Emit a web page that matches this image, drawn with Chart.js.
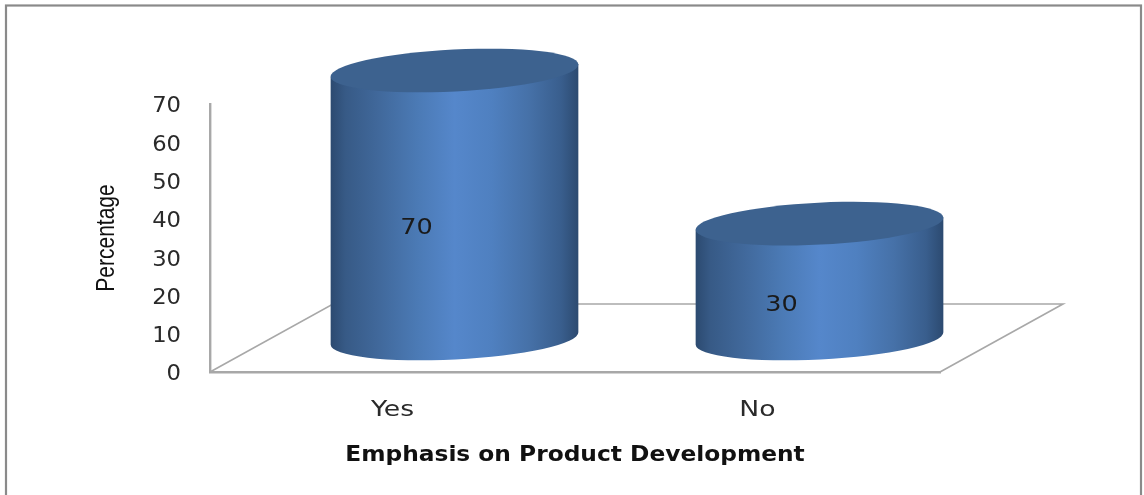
<!DOCTYPE html>
<html>
<head>
<meta charset="utf-8">
<style>
  html, body { margin: 0; padding: 0; background: #fff; }
  canvas { display: block; filter: blur(0.45px); }
</style>
<script src="https://cdn.jsdelivr.net/npm/chart.js@4"></script>
</head>
<body>
<canvas id="chart" width="1144" height="495"></canvas>
<script>
const categories = ["Yes", "No"];
const values = [70, 30];
const yTicks = [0, 10, 20, 30, 40, 50, 60, 70];
const xTitle = "Emphasis on Product Development";
const yTitle = "Percentage";

const depthX = 123, depthY = 68;   // floor depth
const barDx = 62, barDy = 33.5;    // bars stand half way back on the floor
const lineGrey = "#a8a8a8";

function cylinderFill(ctx, left, right) {
    const g = ctx.createLinearGradient(left, 0, right, 0);
    g.addColorStop(0, "#2c4a70");
    g.addColorStop(0.06, "#375a86");
    g.addColorStop(0.2, "#41699c");
    g.addColorStop(0.35, "#4b7ab5");
    g.addColorStop(0.5, "#5587cb");
    g.addColorStop(0.65, "#4f80c0");
    g.addColorStop(0.8, "#4671a8");
    g.addColorStop(0.93, "#395e8d");
    g.addColorStop(1, "#2c4a70");
    return g;
}

// the picture's text is stretched sideways, so scale the canvas round the library's own drawing
function stretchLabels(scale, sx, dy) {
    const ctx = scale.ctx;
    const draw = scale.drawLabels.bind(scale);
    const items = scale.getLabelItems.bind(scale);
    scale._computeLabelArea = () => undefined;
    scale.getLabelItems = area => items(area).map(it => {
        const t = it.options.translation;
        return { ...it, options: { ...it.options, translation: [t[0] / sx, t[1] + dy] } };
    });
    scale.drawLabels = area => {
        ctx.save();
        ctx.scale(sx, 1);
        draw(area);
        ctx.restore();
    };
}

function stretchTitle(scale, sx, sy, dy) {
    const ctx = scale.ctx;
    const draw = scale.drawTitle.bind(scale);
    const a = scale.chart.chartArea;
    const cx = (a.left + a.right) / 2, cy = (a.top + a.bottom) / 2;
    scale.drawTitle = () => {
        ctx.save();
        ctx.translate(cx, cy + dy);
        ctx.scale(sx, sy);
        ctx.translate(-cx, -cy);
        draw();
        ctx.restore();
    };
}

let stretched = false;

// 3D look: floor + cylinders instead of the flat rectangles
const cylinders = {
    id: "cylinders",
    afterLayout(chart) {
        if (stretched) return;
        stretched = true;
        stretchLabels(chart.scales.x, 1.27, 2);
        stretchLabels(chart.scales.y, 1.08, 3);
        stretchTitle(chart.scales.x, 1.11, 1, 3);
        stretchTitle(chart.scales.y, 1, 0.84, 0);
    },
    beforeDraw(chart) {
        const ctx = chart.ctx;
        ctx.save();
        ctx.fillStyle = "#fff";
        ctx.fillRect(0, 0, chart.width, chart.height);
        ctx.strokeStyle = "#8a8a8a";
        ctx.lineWidth = 2.2;
        ctx.strokeRect(6, 5.5, 1135, 600);
        ctx.restore();
    },
    beforeDatasetsDraw(chart) {
        const ctx = chart.ctx;
        const a = chart.chartArea;
        ctx.save();
        ctx.strokeStyle = lineGrey;
        ctx.lineWidth = 1.6;
        ctx.beginPath();
        ctx.moveTo(a.left, a.bottom);
        ctx.lineTo(a.left + depthX, a.bottom - depthY);
        ctx.lineTo(a.right + depthX, a.bottom - depthY);
        ctx.lineTo(a.right, a.bottom);
        ctx.stroke();
        ctx.restore();
    },
    beforeDatasetDraw(chart, args) {
        const ctx = chart.ctx;
        const meta = chart.getDatasetMeta(args.index);
        meta.data.forEach((bar, i) => {
            const rx = bar.width / 2, ry = 21, rot = -0.05;
            const cx = bar.x + barDx;
            const top = bar.y - barDy, bottom = bar.base - barDy;
            const endX = rx * Math.cos(rot), endY = rx * Math.sin(rot);

            ctx.save();
            ctx.fillStyle = cylinderFill(ctx, cx - rx, cx + rx);
            ctx.beginPath();
            ctx.ellipse(cx, bottom, rx, ry, rot, 0, Math.PI);
            ctx.lineTo(cx - endX, top - endY);
            ctx.lineTo(cx + endX, top + endY);
            ctx.closePath();
            ctx.fill();

            ctx.fillStyle = "#3d628f";
            ctx.beginPath();
            ctx.ellipse(cx, top, rx, ry, rot, 0, Math.PI * 2);
            ctx.fill();

            ctx.fillStyle = "#1a1a1a";
            ctx.font = "22px 'DejaVu Sans'";
            ctx.textAlign = "center";
            ctx.textBaseline = "middle";
            ctx.translate(cx - 38, (top + bottom) / 2 + 24);
            ctx.scale(1.16, 1);
            ctx.fillText(String(values[i]), 0, 0);
            ctx.restore();
        });
        return false;
    }
};

new Chart(document.getElementById("chart"), {
    type: "bar",
    data: {
        labels: categories,
        datasets: [{
            data: values,
            backgroundColor: "#4f81bd",
            barThickness: 248
        }]
    },
    options: {
        responsive: false,
        animation: false,
        layout: { padding: { left: 88, right: 204, top: 104, bottom: 29 } },
        plugins: { legend: { display: false }, tooltip: { enabled: false } },
        scales: {
            x: {
                grid: { display: false, drawTicks: false },
                border: { color: lineGrey, width: 2.4 },
                ticks: { color: "#2a2a2a", padding: 24, font: { family: "DejaVu Sans", size: 21 } },
                title: {
                    display: true, text: xTitle, color: "#111",
                    padding: 0,
                    font: { family: "DejaVu Sans", size: 21, weight: "bold", lineHeight: 1.25 }
                },
                afterFit(scale) { scale.height = 94; }
            },
            y: {
                min: 0, max: 70,
                afterBuildTicks(scale) { scale.ticks = yTicks.map(v => ({ value: v })); },
                grid: { display: false, drawTicks: false },
                border: { color: lineGrey, width: 2.4 },
                ticks: { color: "#2a2a2a", padding: 29, font: { family: "DejaVu Sans", size: 21 } },
                title: {
                    display: true, text: yTitle, color: "#111",
                    padding: { top: 4, bottom: 0 },
                    font: { family: "Liberation Sans", size: 25, lineHeight: 1.2 }
                },
                afterFit(scale) { scale.width = 122; }
            }
        }
    },
    plugins: [cylinders]
});
</script>
</body>
</html>
